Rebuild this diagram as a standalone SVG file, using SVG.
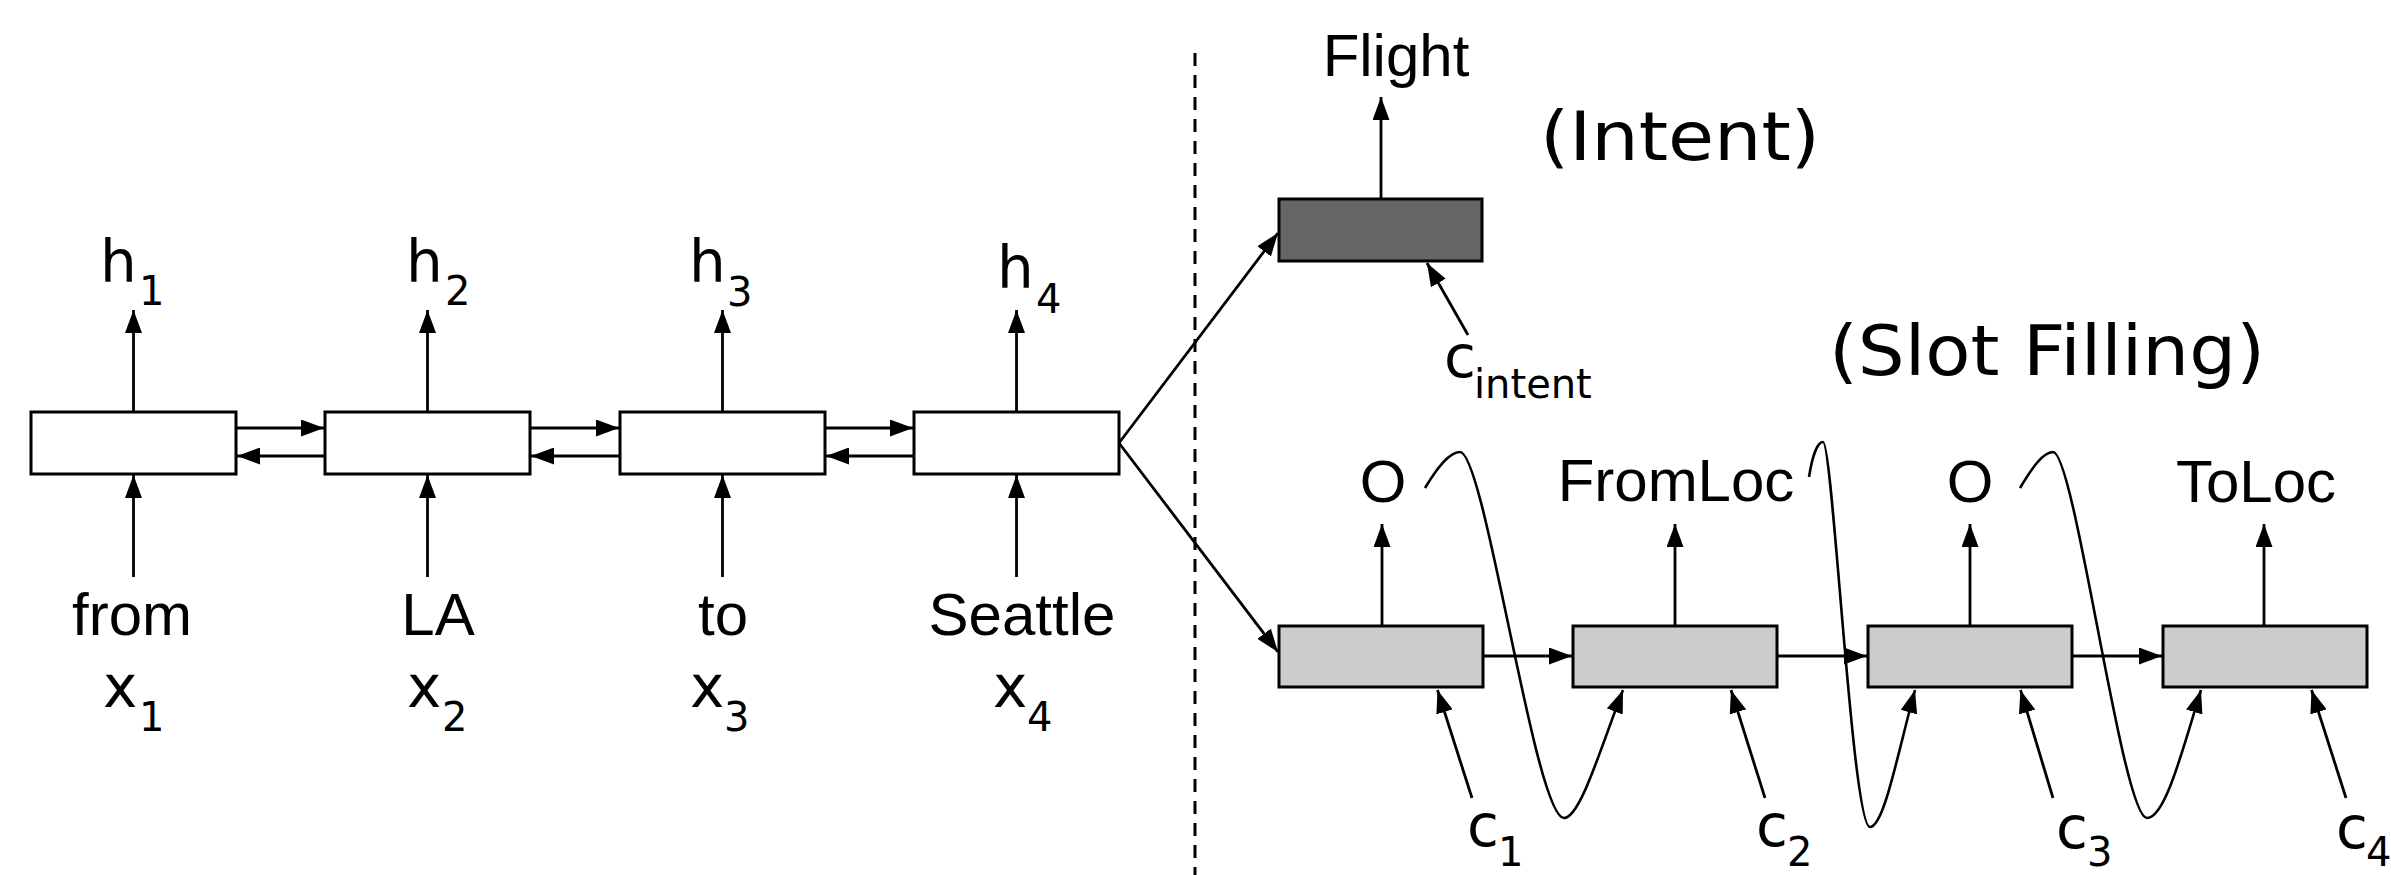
<svg xmlns="http://www.w3.org/2000/svg" width="2391" height="875" viewBox="0 0 2391 875">
<style>
.box{fill:#fff;stroke:#000;stroke-width:3}
.slot{fill:#ccc;stroke:#000;stroke-width:3}
.intent{fill:#666;stroke:#000;stroke-width:3}
.ln{stroke:#000;stroke-width:2.8;fill:none;marker-end:url(#ah)}
.cv{stroke:#000;stroke-width:2.6;fill:none;marker-end:url(#ah)}
.dash{stroke:#000;stroke-width:3;stroke-dasharray:13 9}
.v{font-family:"DejaVu Sans",Verdana,sans-serif;fill:#000}
.a{font-family:"Liberation Sans",Arial,sans-serif;fill:#000;font-size:60px}
.big{font-size:58px}
.sub{font-size:40px}
</style>
<defs>
<marker id="ah" markerUnits="userSpaceOnUse" markerWidth="23" markerHeight="17" refX="23" refY="8.5" orient="auto">
<path d="M0,0 L23,8.5 L0,17 z" fill="#000"/>
</marker>
</defs>
<rect width="2391" height="875" fill="#fff"/>

<line class="dash" x1="1195" y1="53" x2="1195" y2="875"/>

<g id="connectors">
<line class="ln" x1="133.5" y1="412" x2="133.5" y2="310"/>
<line class="ln" x1="427.5" y1="412" x2="427.5" y2="310"/>
<line class="ln" x1="722.5" y1="412" x2="722.5" y2="310"/>
<line class="ln" x1="1016.5" y1="412" x2="1016.5" y2="310"/>
<line class="ln" x1="133.5" y1="577" x2="133.5" y2="475"/>
<line class="ln" x1="427.5" y1="577" x2="427.5" y2="475"/>
<line class="ln" x1="722.5" y1="577" x2="722.5" y2="475"/>
<line class="ln" x1="1016.5" y1="577" x2="1016.5" y2="475"/>
<line class="ln" x1="236" y1="428" x2="324" y2="428"/>
<line class="ln" x1="325" y1="456" x2="237" y2="456"/>
<line class="ln" x1="530" y1="428" x2="619" y2="428"/>
<line class="ln" x1="620" y1="456" x2="531" y2="456"/>
<line class="ln" x1="825" y1="428" x2="913" y2="428"/>
<line class="ln" x1="914" y1="456" x2="826" y2="456"/>
<line class="ln" x1="1119" y1="443" x2="1278" y2="233"/>
<line class="ln" x1="1119" y1="443" x2="1278" y2="652"/>
<line class="ln" x1="1381" y1="199" x2="1381" y2="97"/>
<line class="ln" x1="1468" y1="335" x2="1427" y2="263"/>
<line class="ln" x1="1483" y1="656" x2="1572" y2="656"/>
<line class="ln" x1="1777" y1="656" x2="1867" y2="656"/>
<line class="ln" x1="2072" y1="656" x2="2162" y2="656"/>
<line class="ln" x1="1382" y1="626" x2="1382" y2="524"/>
<line class="ln" x1="1675" y1="626" x2="1675" y2="524"/>
<line class="ln" x1="1970" y1="626" x2="1970" y2="524"/>
<line class="ln" x1="2264" y1="626" x2="2264" y2="524"/>
<line class="ln" x1="1472" y1="798" x2="1437.5" y2="690"/>
<line class="ln" x1="1765" y1="798" x2="1731" y2="690"/>
<line class="ln" x1="2053" y1="798" x2="2020.5" y2="690"/>
<line class="ln" x1="2346" y1="798" x2="2311.5" y2="690"/>
<path class="cv" d="M1425,488 C1437,468 1449,452 1460,452 C1485,452 1535,818 1564,818 C1580,818 1600,750 1623,690"/>
<path class="cv" d="M1809,477 C1812,458 1817,442 1823,442 C1833,442 1852,827 1870,827 C1884,827 1898,752 1915,690"/>
<path class="cv" d="M2020,488 C2032,468 2043,452 2053,452 C2075,452 2122,818 2147,818 C2165,818 2182,752 2201,690"/>
</g>

<g id="enc1"><rect class="box" x="31" y="412" width="205" height="62"/></g>
<g id="enc2"><rect class="box" x="325" y="412" width="205" height="62"/></g>
<g id="enc3"><rect class="box" x="620" y="412" width="205" height="62"/></g>
<g id="enc4"><rect class="box" x="914" y="412" width="205" height="62"/></g>
<g id="intent-box"><rect class="intent" x="1279" y="199" width="203" height="62"/></g>
<g id="slot1"><rect class="slot" x="1279" y="626" width="204" height="61"/></g>
<g id="slot2"><rect class="slot" x="1573" y="626" width="204" height="61"/></g>
<g id="slot3"><rect class="slot" x="1868" y="626" width="204" height="61"/></g>
<g id="slot4"><rect class="slot" x="2163" y="626" width="204" height="61"/></g>

<g id="labels-h">
<text class="v big" x="100" y="282">h<tspan class="sub" x="139" y="305">1</tspan></text>
<text class="v big" x="406" y="282">h<tspan class="sub" x="445" y="305">2</tspan></text>
<text class="v big" x="689" y="282">h<tspan class="sub" x="727" y="306">3</tspan></text>
<text class="v big" x="997" y="288">h<tspan class="sub" x="1036" y="313">4</tspan></text>
</g>
<g id="labels-words">
<text class="a" x="132" y="635" text-anchor="middle">from</text>
<text class="a" x="438" y="635" text-anchor="middle">LA</text>
<text class="a" x="723" y="635" text-anchor="middle">to</text>
<text class="a" x="1022" y="635" text-anchor="middle">Seattle</text>
</g>
<g id="labels-x">
<text class="v big" x="103" y="707">x<tspan class="sub" x="139" y="731">1</tspan></text>
<text class="v big" x="407" y="707">x<tspan class="sub" x="442" y="731">2</tspan></text>
<text class="v big" x="690" y="707">x<tspan class="sub" x="724" y="731">3</tspan></text>
<text class="v big" x="993" y="707">x<tspan class="sub" x="1027" y="731">4</tspan></text>
</g>
<g id="labels-right">
<text class="a" x="1396" y="76" text-anchor="middle">Flight</text>
<text class="v" x="1540" y="160" font-size="68" textLength="280" lengthAdjust="spacingAndGlyphs">(Intent)</text>
<text class="v" x="1829" y="375" font-size="69" textLength="436" lengthAdjust="spacingAndGlyphs">(Slot Filling)</text>
<text class="v big" x="1444" y="377">c<tspan class="sub" x="1474" y="398">intent</tspan></text>
<text class="a" x="1383" y="502" text-anchor="middle">O</text>
<text class="a" x="1676" y="501" text-anchor="middle">FromLoc</text>
<text class="a" x="1970" y="502" text-anchor="middle">O</text>
<text class="a" x="2256" y="502" text-anchor="middle">ToLoc</text>
<text class="v big" x="1467" y="846">c<tspan class="sub" x="1498" y="866">1</tspan></text>
<text class="v big" x="1756" y="846">c<tspan class="sub" x="1787" y="866">2</tspan></text>
<text class="v big" x="2056" y="848">c<tspan class="sub" x="2087" y="866">3</tspan></text>
<text class="v big" x="2336" y="848">c<tspan class="sub" x="2366" y="866">4</tspan></text>
</g>
</svg>
